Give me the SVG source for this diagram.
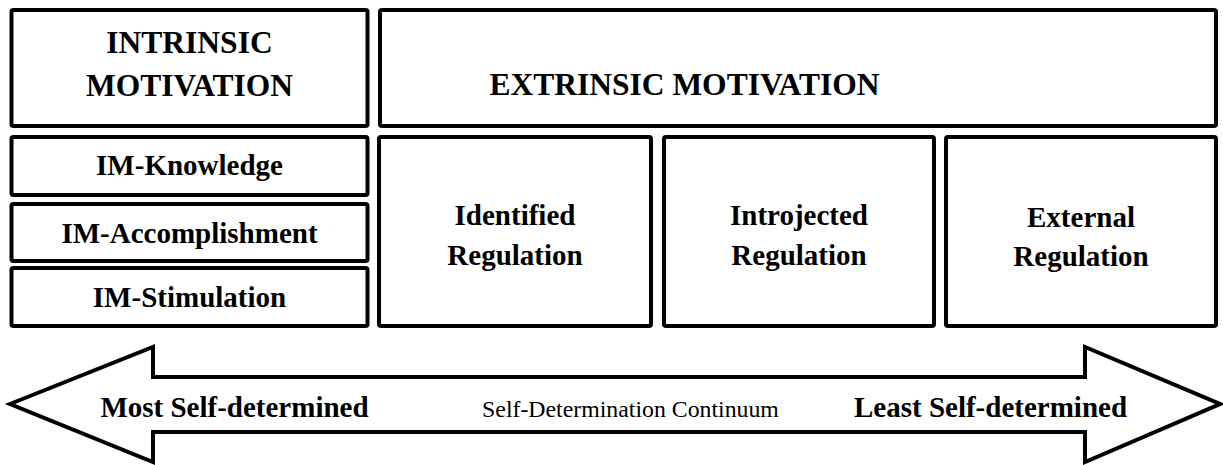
<svg xmlns="http://www.w3.org/2000/svg" width="1223" height="465" viewBox="0 0 1223 465">
<style>
.box{fill:#fff;stroke:#000;stroke-width:4}
.t{font-family:"Liberation Serif","Times New Roman",serif;font-weight:bold;font-size:29px;fill:#000;text-anchor:middle}
.title{font-size:31.5px}
.r{font-family:"Liberation Serif","Times New Roman",serif;font-size:23.8px;fill:#000;text-anchor:middle}
</style>
<rect width="1223" height="465" fill="#fff"/>
<g id="intrinsic">
<rect class="box" x="11.5" y="10" width="356" height="116" rx="2"/>
<text class="t title" x="189.5" y="53">INTRINSIC</text>
<text class="t title" x="189.5" y="96">MOTIVATION</text>
</g>
<g id="extrinsic">
<rect class="box" x="380" y="10" width="836" height="116" rx="2"/>
<text class="t title" x="684.5" y="95">EXTRINSIC MOTIVATION</text>
</g>
<g id="im-knowledge">
<rect class="box" x="11.5" y="137" width="356" height="58" rx="2"/>
<text class="t" x="189.5" y="175">IM-Knowledge</text>
</g>
<g id="im-accomplishment">
<rect class="box" x="11.5" y="204" width="356" height="57" rx="2"/>
<text class="t" x="189.5" y="243">IM-Accomplishment</text>
</g>
<g id="im-stimulation">
<rect class="box" x="11.5" y="268" width="356" height="58" rx="2"/>
<text class="t" x="189.5" y="307">IM-Stimulation</text>
</g>
<g id="identified">
<rect class="box" x="379" y="137" width="272" height="189" rx="2"/>
<text class="t" x="515" y="225">Identified</text>
<text class="t" x="515" y="265">Regulation</text>
</g>
<g id="introjected">
<rect class="box" x="664" y="137" width="270" height="189" rx="2"/>
<text class="t" x="799" y="225">Introjected</text>
<text class="t" x="799" y="265">Regulation</text>
</g>
<g id="external">
<rect class="box" x="946" y="137" width="270" height="189" rx="2"/>
<text class="t" x="1081" y="227">External</text>
<text class="t" x="1081" y="266">Regulation</text>
</g>
<g id="connectors">
<polygon class="box" points="10,404 153,347 153,377 1085,377 1085,347 1220,404 1085,462 1085,432 153,432 153,462"/>
<text class="t" x="234.5" y="417">Most Self-determined</text>
<text class="r" x="630.5" y="417">Self-Determination Continuum</text>
<text class="t" x="990.5" y="417">Least Self-determined</text>
</g>
</svg>
